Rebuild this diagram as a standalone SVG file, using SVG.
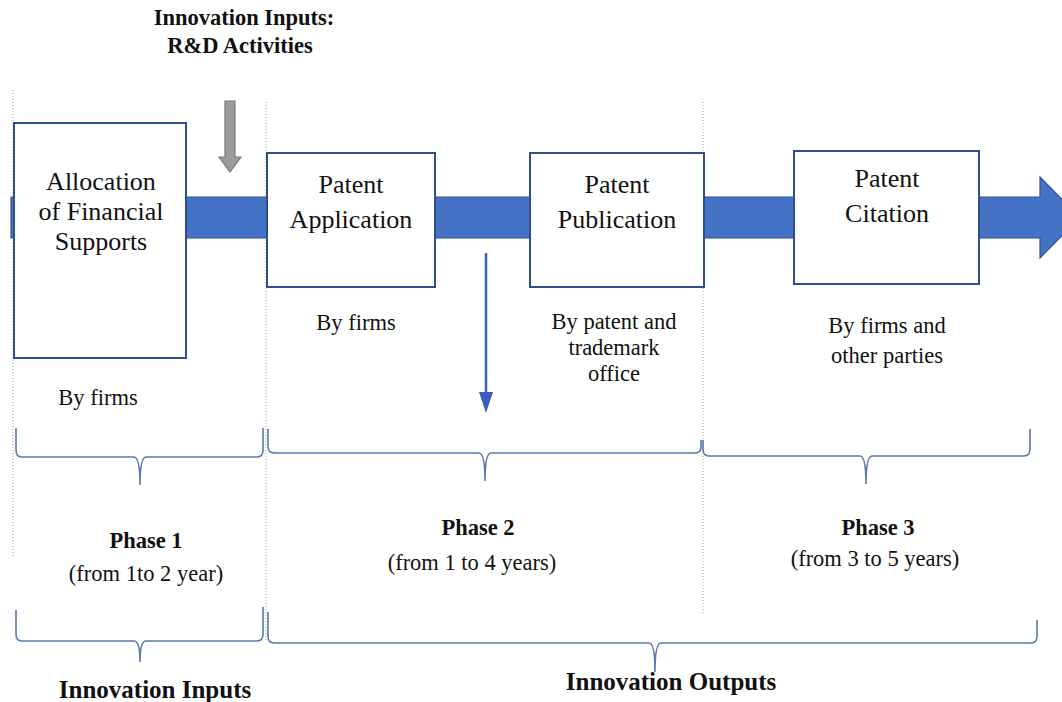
<svg xmlns="http://www.w3.org/2000/svg" width="1062" height="702" viewBox="0 0 1062 702">
<style>
.box{fill:#fff;stroke:#2f4f8a;stroke-width:2}
.lbl{font-family:"Liberation Serif",serif;font-size:26px;fill:#111;text-anchor:middle}
.sm{font-family:"Liberation Serif",serif;font-size:22.5px;fill:#111;text-anchor:middle}
.bd{font-family:"Liberation Serif",serif;font-size:22.5px;font-weight:bold;fill:#111;text-anchor:middle}
.bb{font-family:"Liberation Serif",serif;font-size:25px;font-weight:bold;fill:#111;text-anchor:middle}
.dot{stroke:#9a9a9a;stroke-width:1;stroke-dasharray:1 2;fill:none}
.brace{fill:none;stroke:#5a78a8;stroke-width:1.6}
</style>
<rect width="1062" height="702" fill="#fff"/>
<g id="guides">
<line class="dot" x1="13" y1="90" x2="13" y2="556"/>
<line class="dot" x1="266" y1="102" x2="266" y2="640"/>
<line class="dot" x1="703" y1="102" x2="703" y2="613"/>
</g>
<g id="connectors">
<path d="M11,197 L1040,197 L1040,177 L1080,217.5 L1040,258 L1040,238 L11,238 Z" fill="#4472c4" stroke="#2f5597" stroke-width="1.2"/>
<path d="M225,101 L235,101 L235,157 L241,157 L230,172 L219,157 L225,157 Z" fill="#9b9b9b" stroke="#7a7a7a" stroke-width="1.2"/>
<line x1="486" y1="253" x2="486" y2="394" stroke="#3a5ec0" stroke-width="2.5"/>
<path d="M479,392 L493,392 L486,413 Z" fill="#3a5ec0"/>
</g>
<g id="title">
<text class="bd" x="244" y="25">Innovation Inputs:</text>
<text class="bd" x="240" y="53">R&amp;D Activities</text>
</g>
<g id="node-allocation">
<rect class="box" x="14" y="123" width="172" height="235"/>
<text class="lbl" x="101" y="190">Allocation</text>
<text class="lbl" x="101" y="220">of Financial</text>
<text class="lbl" x="101" y="250">Supports</text>
<text class="sm" x="98" y="405">By firms</text>
</g>
<g id="node-application">
<rect class="box" x="267" y="153" width="168" height="134"/>
<text class="lbl" x="351" y="193">Patent</text>
<text class="lbl" x="351" y="228">Application</text>
<text class="sm" x="356" y="330">By firms</text>
</g>
<g id="node-publication">
<rect class="box" x="530" y="153" width="174" height="134"/>
<text class="lbl" x="617" y="193">Patent</text>
<text class="lbl" x="617" y="228">Publication</text>
<text class="sm" x="614" y="329">By patent and</text>
<text class="sm" x="614" y="355">trademark</text>
<text class="sm" x="614" y="381">office</text>
</g>
<g id="node-citation">
<rect class="box" x="794" y="151" width="185" height="133"/>
<text class="lbl" x="887" y="187">Patent</text>
<text class="lbl" x="887" y="222">Citation</text>
<text class="sm" x="887" y="333">By firms and</text>
<text class="sm" x="887" y="363">other parties</text>
</g>
<g id="braces">
<path class="brace" d="M16,428 L16,450 Q16,457 22,457 L134,457 Q140,457 140,485 Q140,457 146,457 L257,457 Q263,457 263,450 L263,428"/>
<path class="brace" d="M268,429 L268,446 Q268,453 274,453 L479,453 Q485,453 485,481 Q485,453 491,453 L695,453 Q701,453 701,447 L701,440"/>
<path class="brace" d="M703,440 L703,449 Q703,456 709,456 L860,456 Q866,456 866,484 Q866,456 872,456 L1024,456 Q1030,456 1030,449 L1030,429"/>
<path class="brace" d="M16,610 L16,634 Q16,641 22,641 L134,641 Q140,641 140,662 Q140,641 146,641 L257,641 Q263,641 263,634 L263,607"/>
<path class="brace" d="M268,612 L268,636 Q268,643 274,643 L649,643 Q655,643 655,672 Q655,643 661,643 L1031,643 Q1037,643 1037,636 L1037,620"/>
</g>
<g id="phases">
<text class="bd" x="146" y="548">Phase 1</text>
<text class="sm" x="146" y="581">(from 1to 2 year)</text>
<text class="bd" x="478" y="535">Phase 2</text>
<text class="sm" x="472" y="570">(from 1 to 4 years)</text>
<text class="bd" x="878" y="535">Phase 3</text>
<text class="sm" x="875" y="566">(from 3 to 5 years)</text>
</g>
<g id="groups">
<text class="bb" x="155" y="698">Innovation Inputs</text>
<text class="bb" x="671" y="690">Innovation Outputs</text>
</g>
</svg>
